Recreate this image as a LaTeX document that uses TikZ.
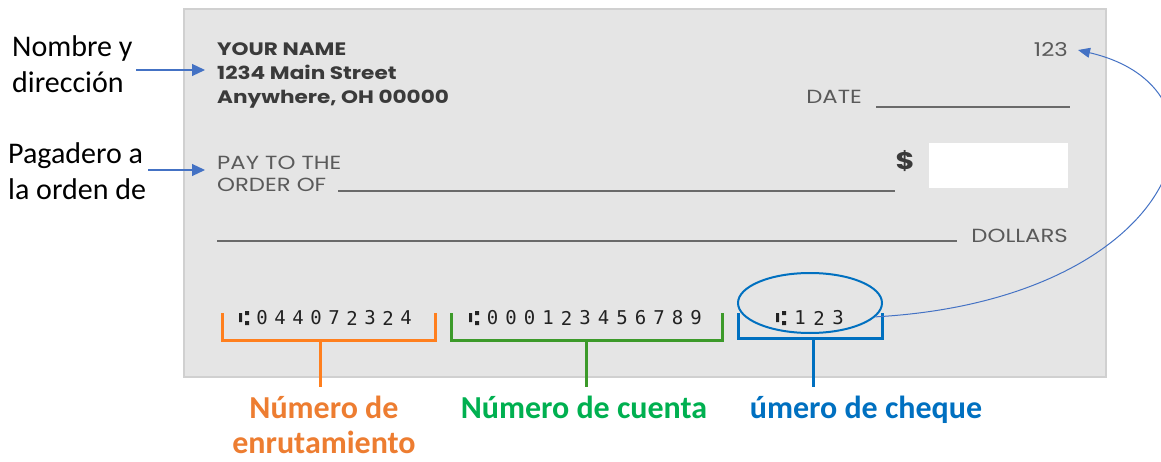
\documentclass[tikz,border=0pt]{standalone}
\usepackage{fontspec}
\setmainfont{Carlito}
\newfontfamily\chkfont[FakeStretch=1.2]{Poppins}
\newfontfamily\micrfont{DejaVu Sans Mono}
\usetikzlibrary{arrows.meta,shapes.geometric}

\definecolor{chkgray}{HTML}{E5E5E5}
\definecolor{chkedge}{HTML}{D0D0D0}
\definecolor{inkdark}{HTML}{3A3A3A}
\definecolor{inklight}{HTML}{5A5A5A}
\definecolor{rulegray}{HTML}{6A6A6A}
\definecolor{micrink}{HTML}{222222}
\definecolor{routeorange}{HTML}{FF7F1E}
\definecolor{routetext}{HTML}{ED7D31}
\definecolor{acctgreen}{HTML}{3C9A2A}
\definecolor{accttext}{HTML}{00B050}
\definecolor{chkblue}{HTML}{0070C0}
\definecolor{callblue}{HTML}{4472C4}

\begin{document}
\begin{tikzpicture}[x=1pt,y=-1pt,
    lbl/.style={font=\fontsize{30}{36}\selectfont,align=left,inner sep=0pt},
    tag/.style={font=\fontsize{32}{35}\selectfont\bfseries,align=center,inner sep=0pt},
    chktext/.style={font=\chkfont\fontsize{19}{24}\selectfont,text=inklight,align=left,inner sep=0pt},
    micr/.style={font=\micrfont\fontsize{19}{19}\selectfont,text=micrink,inner sep=0pt},
    transit/.pic={\fill[micrink] (-5,-5) rectangle (-2,4)
                    (1,-7) rectangle (5,-3) (1,3) rectangle (5,7);},
    callout/.style={callblue,line width=1.2pt,-{Triangle[length=13pt,width=12pt]}},
    bracket/.style={line width=3pt},
    chkrule/.style={rulegray,line width=1.5pt}]

  \useasboundingbox (0,0) rectangle (1161,462);

  % the cheque
  \node[draw=chkedge,fill=chkgray,line width=2pt,minimum width=922pt,minimum height=368pt,
        anchor=north west,inner sep=0pt] (check) at (183,8) {};

  \node[chktext,text=inkdark,font=\chkfont\bfseries\fontsize{18}{24}\selectfont,anchor=base west]
        (addr) at (217,104) {YOUR NAME\\1234 Main Street\\Anywhere, OH 00000};
  \node[chktext,anchor=base east] (serial) at (1068,57) {123};
  \node[chktext,anchor=base east] (date) at (862,104) {DATE};
  \node[chktext,anchor=base west,font=\chkfont\fontsize{19}{22}\selectfont] (payto) at (217,192) {PAY TO THE\\ORDER OF};
  \node[chktext,text=inkdark,font=\chkfont\bfseries\fontsize{24}{24}\selectfont] (dollar) at (905,161) {\$};
  \node[chktext,anchor=base east] (dollars) at (1068,243) {DOLLARS};
  \fill[white] (929,143) rectangle (1068,188);

  \draw[chkrule] (876,107) -- (1070,107);
  \draw[chkrule] (338,191) -- (895,191);
  \draw[chkrule] (217,241) -- (957,241);

  % MICR line
  \pic at (244,318) {transit};
  \foreach \d [count=\i] in {0,4,4,0,7,2,3,2,4}
    \node[micr] at (244+18*\i,318) {\d};
  \pic at (474,318) {transit};
  \foreach \d [count=\i] in {0,0,0,1,2,3,4,5,6,7,8,9}
    \node[micr] at (474+18.5*\i,318) {\d};
  \pic at (781,318) {transit};
  \foreach \d [count=\i] in {1,2,3}
    \node[micr] at (781+19*\i,318) {\d};

  % left labels
  \node[lbl,anchor=base west] (lblname) at (12,93) {Nombre y\\dirección};
  \node[lbl,anchor=base west] (lblpay) at (8,200) {Pagadero a\\la orden de};
  \coordinate (nametip) at (205,70);
  \coordinate (paytip) at (205,170);
  \draw[callout] (136,70) -- (nametip);
  \draw[callout] (148,170) -- (paytip);

  % bottom labels
  \node[tag,text=routetext,anchor=base] (route) at (324,453) {Número de\\enrutamiento};
  \node[tag,text=accttext,anchor=base] (acct) at (584,418) {Número de cuenta};
  \node[tag,text=chkblue,anchor=base] (chknum) at (866,418) {úmero de cheque};

  \draw[bracket,routeorange] (222,313) |- (435,340) -- (435,313);
  \draw[bracket,routeorange] (320,340) -- (320,387);
  \draw[bracket,acctgreen] (451,313) |- (722,340) -- (722,313);
  \draw[bracket,acctgreen] (586,340) -- (586,387);
  \draw[bracket,chkblue] (738,313) |- (882,338) -- (882,313);
  \draw[bracket,chkblue] (813,338) -- (813,387);

  \node[draw=chkblue,ellipse,line width=2pt,minimum width=144pt,minimum height=60pt] (chkoval) at (810,303) {};
  \coordinate (serialtip) at ([xshift=10pt]serial.east);
  \draw[callblue,line width=1pt,-{Triangle[length=12pt,width=10pt]}]
    (chkoval.-12) .. controls (1180,300) and (1250,90) .. (serialtip);
\end{tikzpicture}
\end{document}
